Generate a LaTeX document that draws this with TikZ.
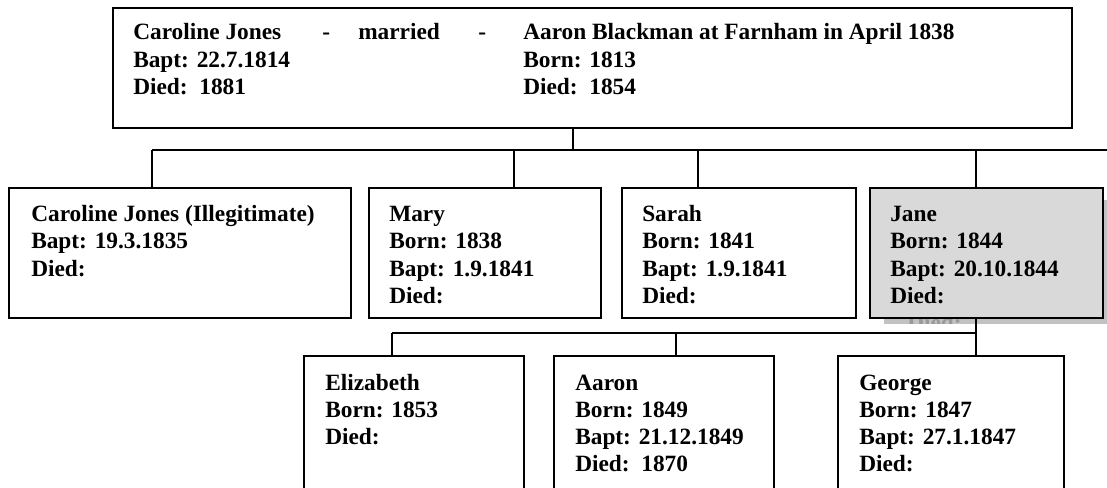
\documentclass[tikz,border=0pt]{standalone}
\usepackage{fontspec}
\setmainfont{Liberation Serif}
\begin{document}
\begin{tikzpicture}[x=0.75pt,y=-0.75pt,
  box/.style={draw=black,line width=1.4pt,fill=white,inner sep=0pt,anchor=north west},
  conn/.style={draw=black,line width=1.1pt},
  lab/.style={inner sep=0pt,anchor=base west,font=\bfseries\fontsize{17.5}{20}\selectfont}]
\useasboundingbox (0,0) rectangle (1107,488);
\newcommand\boxat[5]{\node[box,minimum width=#4*0.75pt,minimum height=#5*0.75pt] (#1) at (#2,#3) {};}
\newcommand\txtat[4]{\foreach \l [count=\i from 0] in {#4} {\node[lab] (#1-\i) at (#2,#3+27.3*\i) {\l};}}
% top box
\boxat{top}{112}{7}{959}{120}
\txtat{tl}{133}{40}{Caroline Jones,Bapt: 22.7.1814,Died:\ \ 1881}
\node[lab] (d1) at (322,40) {-};
\node[lab] (mar) at (358,40) {married};
\node[lab] (d2) at (478,40) {-};
\txtat{tr}{523}{40}{Aaron Blackman at Farnham in April 1838,Born: 1813,Died:\ \ 1854}
% first row
\coordinate (j1) at (573,150);
\coordinate (jend) at (1115,150);
\draw[conn] (top.south -| j1) -- (j1);
\draw[conn] (152,150) -- (jend);
\boxat{c1}{8}{187}{342}{130}
\boxat{c2}{368}{187}{232}{130}
\boxat{c3}{621}{187}{234}{130}
% Jane with shadow
\fill[black!24] (884,200) rectangle (1115,324);
\begin{scope}
\clip (884,200) rectangle (1115,324);
\node[lab,text=black!40] (ghost) at (907,330) {Died:};
\end{scope}
\node[box,fill=black!15,minimum width=233*0.75pt,minimum height=130*0.75pt] (c4) at (869,187) {};
\foreach \n/\x in {c1/152,c2/514,c3/698,c4/976}
  \draw[conn] (\x,150) -- (\x,150 |- \n.north);
\txtat{a}{31}{221.7}{Caroline Jones (Illegitimate),Bapt: 19.3.1835,Died:}
\txtat{b}{389}{221.7}{Mary,Born: 1838,Bapt: 1.9.1841,Died:}
\txtat{c}{642}{221.7}{Sarah,Born: 1841,Bapt: 1.9.1841,Died:}
\txtat{d}{890}{221.7}{Jane,Born: 1844,Bapt: 20.10.1844,Died:}
% second row
\boxat{g1}{303}{355}{220}{150}
\boxat{g2}{553}{355}{220}{150}
\boxat{g3}{837}{355}{226}{150}
\coordinate (h1) at (392,333);
\coordinate (h2) at (676,333);
\coordinate (h3) at (976,333);
\draw[conn] (c4.south -| h3) -- (h3 |- g3.north);
\draw[conn] (h1) -- (h3);
\draw[conn] (h1) -- (h1 |- g1.north);
\draw[conn] (h2) -- (h2 |- g2.north);
\txtat{e}{325}{390}{Elizabeth,Born: 1853,Died:}
\txtat{f}{575}{390}{Aaron,Born: 1849,Bapt: 21.12.1849,Died:\ \ 1870}
\txtat{g}{859}{390}{George,Born: 1847,Bapt: 27.1.1847,Died:}
\end{tikzpicture}
\end{document}
